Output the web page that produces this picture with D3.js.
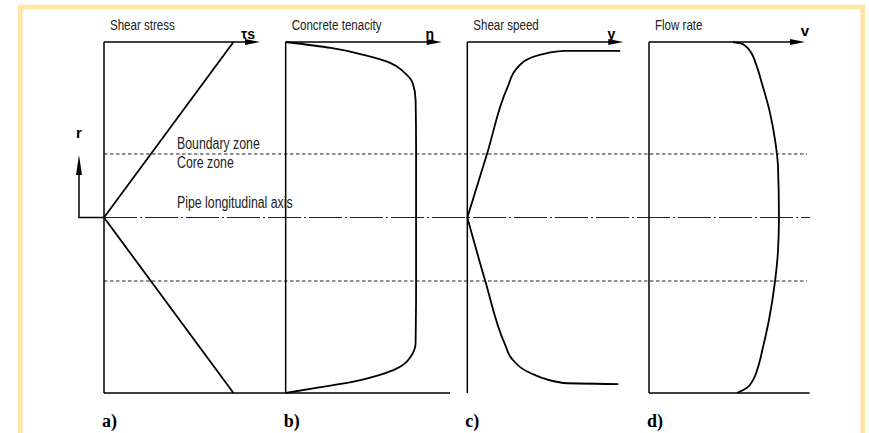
<!DOCTYPE html>
<html>
<head>
<meta charset="utf-8">
<script src="https://cdn.jsdelivr.net/npm/d3@7"></script>
<style>
  body { margin: 0; background: #fff; }
</style>
</head>
<body>
<script>
// panel ids, titles and axis symbols
var panels = ["a", "b", "c", "d"];
var titles = ["Shear stress", "Concrete tenacity", "Shear speed", "Flow rate"];
var symbols = ["τs", "η", "γ", "v"];

// profiles: [relative value, r], r = 1 (pipe wall, top) .. 0 (axis) .. -1 (pipe wall, bottom)
// each profile is a list of strokes drawn top to bottom
var shearStress = [[[0.83, 1], [0, 0], [0.83, -1]]];
var tenacity = [[[0, 1], [0.29, 0.966], [0.50, 0.926], [0.673, 0.88], [0.756, 0.83], [0.814, 0.767],
  [0.833, 0.67], [0.836, 0.4], [0.836, 0], [0.836, -0.4], [0.833, -0.715], [0.80, -0.795],
  [0.69, -0.87], [0.48, -0.926], [0.205, -0.97], [0, -1]]];
var shearSpeed = [
  [[0.98, 0.949], [0.615, 0.949], [0.513, 0.937], [0.404, 0.909], [0.32, 0.852],
   [0.256, 0.738], [0.128, 0.368], [0, 0]],
  [[0, 0], [0.115, -0.362], [0.24, -0.72], [0.29, -0.81], [0.404, -0.886],
   [0.615, -0.943], [0.968, -0.949]]];
var flowRate = [[[0.538, 1], [0.585, 0.993], [0.622, 0.975], [0.65, 0.945], [0.692, 0.858],
  [0.724, 0.764], [0.776, 0.595], [0.808, 0.442], [0.827, 0.288], [0.833, 0], [0.826, -0.202],
  [0.808, -0.362], [0.769, -0.584], [0.731, -0.738], [0.699, -0.852], [0.667, -0.926],
  [0.628, -0.97], [0.564, -1]]];
var profiles = [shearStress, tenacity, shearSpeed, flowRate];

// zone boundaries and labels
var boundaryR = 0.362;
var zoneLabels = ["Boundary zone", "Core zone", "Pipe longitudinal axis"];
var caseLabels = ["a)", "b)", "c)", "d)"];

var W = 869, H = 433;
var narrowFont = "Liberation Sans, Arial, sans-serif";
var squeeze = 0.77; // condensed look of the original lettering

var svg = d3.select("body").append("svg")
    .attr("width", W)
    .attr("height", H);

// yellow frame
svg.append("rect")
    .attr("x", 20.25).attr("y", 7)
    .attr("width", 842.5).attr("height", 460)
    .attr("fill", "none")
    .attr("stroke", "#fee6a2")
    .attr("stroke-width", 4.5);

var y = d3.scaleLinear().domain([-1, 1]).range([393, 42]);
var panelX = d3.scalePoint().domain(panels).range([104, 649]);
var panelW = 156;

function xScale(p) {
  return d3.scaleLinear().domain([0, 1]).range([panelX(p), panelX(p) + panelW]);
}

function narrowText(sel, x, yy, size, t) {
  return sel.append("text")
      .attr("transform", "translate(" + x + "," + yy + ") scale(" + squeeze + ",1)")
      .attr("font-family", narrowFont)
      .attr("font-size", size)
      .attr("fill", "#222")
      .text(t);
}

var line = d3.line();

// horizontal zone lines
var xEnd = panelX("d") + panelW + 2;
[boundaryR, -boundaryR].forEach(function(r) {
  svg.append("line")
      .attr("x1", panelX("a")).attr("x2", xEnd)
      .attr("y1", y(r)).attr("y2", y(r))
      .attr("stroke", "#222")
      .attr("stroke-width", 1)
      .attr("stroke-dasharray", "3.5,2.5");
});

// pipe axis
svg.append("line")
    .attr("x1", panelX("a")).attr("x2", xEnd + 3)
    .attr("y1", y(0)).attr("y2", y(0))
    .attr("stroke", "#222")
    .attr("stroke-width", 1.2)
    .attr("stroke-dasharray", "33,3,2,3");

// r arrow
var rx = 79;
svg.append("path")
    .attr("d", line([[panelX("a"), y(0)], [rx, y(0)], [rx, 170]]))
    .attr("fill", "none")
    .attr("stroke", "#000")
    .attr("stroke-width", 1.5);
svg.append("path")
    .attr("d", "M" + rx + ",155 L" + (rx - 3) + ",175 L" + (rx + 3) + ",175 Z")
    .attr("fill", "#000");
svg.append("text")
    .attr("x", rx - 3).attr("y", 138)
    .attr("font-family", "Liberation Sans, sans-serif")
    .attr("font-weight", "bold")
    .attr("font-size", 15)
    .text("r");

// panels
panels.forEach(function(p, i) {
  var x = xScale(p);
  var g = svg.append("g");
  var x0 = x(0), xt = x(1);

  // vertical axis
  g.append("line")
      .attr("x1", x0).attr("x2", x0)
      .attr("y1", y(1)).attr("y2", y(-1))
      .attr("stroke", "#000").attr("stroke-width", 1.5);

  // top axis with arrow
  g.append("line")
      .attr("x1", x0).attr("x2", xt - 8)
      .attr("y1", y(1)).attr("y2", y(1))
      .attr("stroke", "#000").attr("stroke-width", 1.5);
  g.append("path")
      .attr("d", "M" + xt + "," + y(1) + " L" + (xt - 15) + "," + (y(1) - 3) +
                 " L" + (xt - 15) + "," + (y(1) + 3) + " Z")
      .attr("fill", "#000");

  // bottom line (none under c)
  if (p !== "c") {
    var bEnd = p === "a" ? panelX("b") : (p === "b" ? 450 : x(1.03));
    g.append("line")
        .attr("x1", x0).attr("x2", bEnd)
        .attr("y1", y(-1)).attr("y2", y(-1))
        .attr("stroke", "#000").attr("stroke-width", 1.5);
  }

  // profile curve(s)
  var curve = i === 0 ? d3.curveLinear : d3.curveMonotoneY;
  profiles[i].forEach(function(stroke) {
    var pts = stroke.map(function(d) { return [x(d[0]), y(d[1])]; });
    g.append("path")
        .attr("d", d3.line().curve(curve)(pts))
        .attr("fill", "none")
        .attr("stroke", "#000")
        .attr("stroke-width", 1.8)
        .attr("stroke-linejoin", "round");
  });

  // title
  narrowText(g, x0 + 6, 30, 15, titles[i]);

  // axis symbol
  g.append("text")
      .attr("x", xt - (i === 3 ? 0 : 12)).attr("y", i === 3 ? 36 : 39)
      .attr("text-anchor", "middle")
      .attr("font-family", "Liberation Sans, sans-serif")
      .attr("font-weight", "bold")
      .attr("font-size", i === 3 ? 15 : 14)
      .text(symbols[i]);

  // case letter
  g.append("text")
      .attr("x", x0 - 2).attr("y", 427)
      .attr("font-family", "Liberation Serif, serif")
      .attr("font-weight", "bold")
      .attr("font-size", 18)
      .text(caseLabels[i]);
});

// zone labels
var zoneY = [149, 168, 208];
zoneLabels.forEach(function(t, i) {
  narrowText(svg, 177, zoneY[i], 16, t);
});
</script>
</body>
</html>
